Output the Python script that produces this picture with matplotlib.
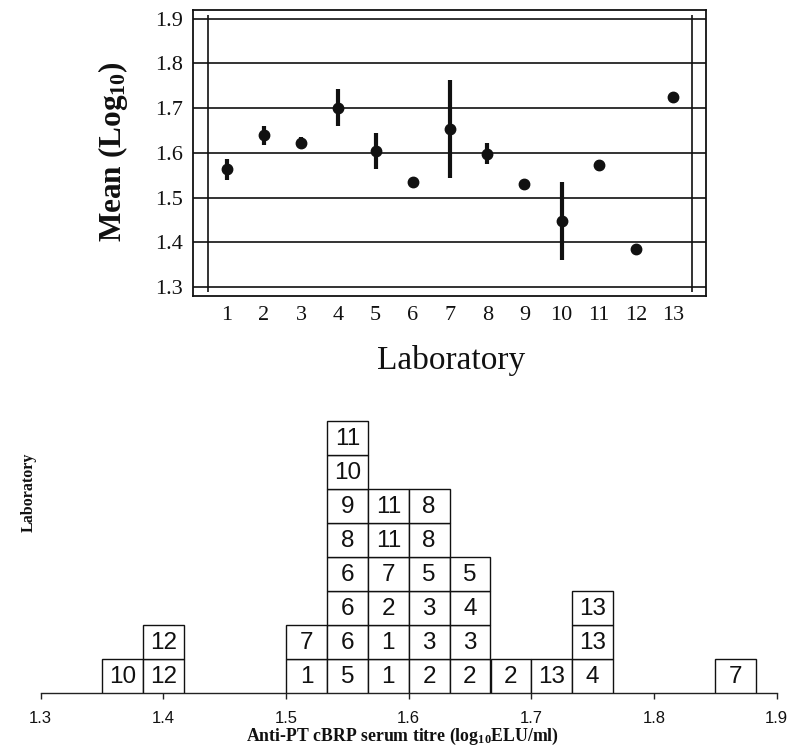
import matplotlib
matplotlib.use("Agg")
import matplotlib.pyplot as plt
from matplotlib.patches import Rectangle

plt.rcParams['mathtext.fontset'] = 'custom'
plt.rcParams['mathtext.rm'] = 'Liberation Serif'
plt.rcParams['mathtext.bf'] = 'Liberation Serif:bold'
plt.rcParams['mathtext.default'] = 'bf'

# ---- data: top panel (laboratory means, log10) ----
labs = list(range(1, 14))
lab_means = [1.563, 1.639, 1.623, 1.701, 1.605, 1.535, 1.654,
             1.598, 1.530, 1.447, 1.572, 1.384, 1.724]
lab_err = [0.024, 0.021, 0.013, 0.041, 0.040, 0.0, 0.110,
           0.023, 0.0, 0.087, 0.012, 0.0, 0.005]
top_yticks = [1.3, 1.4, 1.5, 1.6, 1.7, 1.8, 1.9]

# ---- data: bottom panel (histogram of titres, boxes labelled by lab) ----
bin_width = 1 / 30
bin_left = [1.35, 1.3833, 1.5, 1.5333, 1.5667, 1.6, 1.6333, 1.6667, 1.7, 1.7333, 1.85]
bin_labs = [[10], [12, 12], [1, 7], [5, 6, 6, 6, 8, 9, 10, 11], [1, 1, 2, 7, 11, 11],
            [2, 3, 3, 5, 8, 8], [2, 3, 4, 5], [2], [13], [4, 13, 13], [7]]
bottom_xticks = [1.3, 1.4, 1.5, 1.6, 1.7, 1.8, 1.9]

W, H = 789, 749
fig = plt.figure(figsize=(W / 100, H / 100), dpi=100)

def fx(px):
    return px / W

def fy(py):
    return 1 - py / H

serif = 'Liberation Serif'
sans = 'Liberation Sans'
ink = '#111111'

# ---------------- top panel ----------------
ax = fig.add_axes([fx(193), fy(296), fx(706) - fx(193), fy(10) - fy(296)])
ax.set_xlim(0.094, 13.88)
ax.set_ylim(1.28, 1.9195)
for s in ax.spines.values():
    s.set_linewidth(1.3)
    s.set_color(ink)
ax.set_yticks(top_yticks)
ax.set_yticklabels([f"{v:.1f}" for v in top_yticks], fontfamily=serif, fontsize=16)
ax.set_xticks(labs)
ax.set_xticklabels([str(l) for l in labs], fontfamily=serif, fontsize=16)
ax.tick_params(axis='both', length=0, colors=ink)
ax.tick_params(axis='y', pad=7)
ax.tick_params(axis='x', pad=7)
ax.grid(axis='y', color=ink, linewidth=1.2)
ax.set_axisbelow(True)
ax.vlines([0.5, 13.5], 1.2895, 1.908, color=ink, linewidth=1.2)
ax.errorbar(labs, lab_means, yerr=lab_err, fmt='o', color=ink, markersize=7.5,
            elinewidth=3.0, capsize=0, zorder=3)

fig.text(fx(121.5), fy(152), 'Mean (Log$_{10}$)', rotation=90, rotation_mode='anchor',
         ha='center', va='baseline', fontfamily=serif, fontweight='bold', fontsize=22.5,
         color=ink)
fig.text(fx(451), fy(369), 'Laboratory', ha='center', va='baseline',
         fontfamily=serif, fontsize=24, color=ink)

# ---------------- bottom panel ----------------
row_px = 34
nrows = 8.6
bx = fig.add_axes([fx(40.7), fy(693.3), fx(776.7) - fx(40.7), row_px * nrows / H])
bx.set_xlim(1.3, 1.9)
bx.set_ylim(0, nrows)
for k in ['left', 'right', 'top']:
    bx.spines[k].set_visible(False)
bx.spines['bottom'].set_linewidth(1.0)
bx.spines['bottom'].set_color('#222222')
bx.set_yticks([])
bx.set_xticks(bottom_xticks)
bx.set_xticklabels([f"{v:.1f}" for v in bottom_xticks], fontfamily=sans, fontsize=12)
bx.tick_params(axis='x', direction='out', length=4, width=1.0, pad=9, colors='#222222')
bx.tick_params(axis='x', labelcolor=ink)
bx.patch.set_alpha(0)

for left, labs_in_bin in zip(bin_left, bin_labs):
    for i, lab in enumerate(labs_in_bin):
        bx.add_patch(Rectangle((left, i), bin_width, 1, facecolor='white',
                               edgecolor=ink, linewidth=1.0, zorder=3))
        bx.text(left + bin_width / 2, i + 0.47, str(lab), ha='center', va='center',
                fontfamily=sans, fontsize=17.5, color=ink, zorder=4)

fig.text(fx(402), fy(740.7), 'Anti-PT cBRP serum titre (log$_{10}$ELU/ml)',
         ha='center', va='baseline', fontfamily=serif, fontweight='bold',
         fontsize=12.8, color=ink)
fig.text(fx(32.3), fy(492), 'Laboratory', rotation=90, rotation_mode='anchor',
         ha='center', va='baseline', fontfamily=serif, fontweight='bold',
         fontsize=11.5, color=ink)

fig.savefig('out.png', dpi=100)
